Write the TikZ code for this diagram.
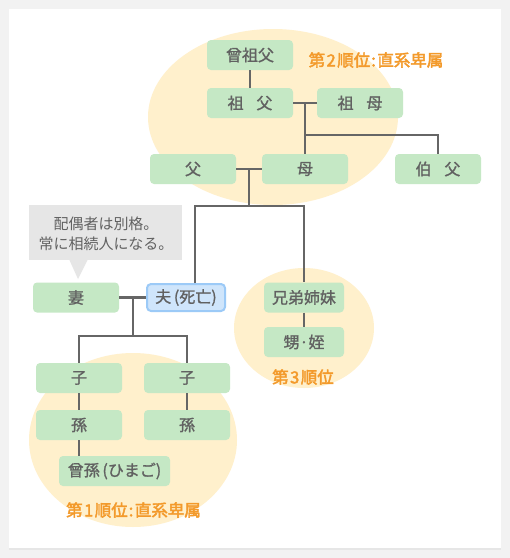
\documentclass[tikz,border=0pt]{standalone}
\usepackage{fontspec}
\newfontfamily\jp{Noto Sans CJK JP}
\newfontfamily\jpm[AutoFakeBold=1.2]{Noto Sans CJK JP}
\newfontfamily\jpb[AutoFakeBold=2.5]{Noto Sans CJK JP}
\definecolor{bgray}{HTML}{F2F2F2}
\definecolor{shad}{HTML}{E6E6E6}
\definecolor{gfill}{HTML}{C5E8C5}
\definecolor{tgray}{HTML}{616161}
\definecolor{lgray}{HTML}{666666}
\definecolor{bfill}{HTML}{CFE5FB}
\definecolor{bline}{HTML}{9CCAF7}
\definecolor{yfill}{HTML}{FFF0CC}
\definecolor{orng}{HTML}{F39A2B}
\definecolor{cfill}{HTML}{E6E6E6}
\tikzset{
  person/.style={fill=gfill, rounded corners=4pt, minimum width=86pt, minimum height=30pt,
    inner sep=0pt, font=\jpm\bfseries\fontsize{16pt}{18pt}\selectfont, text=tgray},
  narrow/.style={minimum width=80pt},
  deceased/.style={fill=bfill, draw=bline, line width=2pt, minimum width=78pt, minimum height=27pt},
  link/.style={draw=lgray, line width=2.6pt},
  rank/.style={font=\jpb\bfseries\fontsize{16.5pt}{19pt}\selectfont, text=orng, inner sep=0pt},
  zone/.style={fill=yfill}
}
\begin{document}
\begin{tikzpicture}[x=1pt,y=-1pt]
\useasboundingbox (0,0) rectangle (510,558);
\fill[bgray] (0,0) rectangle (510,558);
\fill[shad] (9,9) rectangle (501,549.5);
\fill[white] (9,9) rectangle (501,548);
% zones
\fill[zone] (273,117) ellipse [x radius=125, y radius=88];
\fill[zone] (133,440) ellipse [x radius=104, y radius=87];
\fill[zone] (304,328) ellipse [x radius=70, y radius=60];
% rank labels
\node[rank] (r2) at (376,60) {第\kern1.5pt2\kern1.5pt順位\kern1pt:\kern1.5pt直系卑属};
\node[rank] (r1) at (133.5,510) {第\kern1.5pt1\kern1.5pt順位\kern1pt:\kern1.5pt直系卑属};
\node[rank] (r3) at (303,377) {第\kern1.5pt3\kern1.5pt順位};
% callout
\fill[cfill] (29,205) rectangle (182,260);
\fill[cfill] (69,259) -- (88,259) -- (78,279) -- cycle;
\node[font=\jp\fontsize{15pt}{20pt}\selectfont, text=tgray, align=center, inner sep=0pt] (note) at (106,233.5) {配偶者は別格。\\常に相続人になる。};
% persons
\node[person] (sofu0) at (250,55) {曾祖父};
\node[person] (sofu) at (250,103) {祖\hspace{0.8em}父};
\node[person] (sobo) at (360,103) {祖\hspace{0.8em}母};
\node[person] (chichi) at (193,169) {父};
\node[person] (haha) at (305,169) {母};
\node[person] (oji) at (438,169) {伯\hspace{0.8em}父};
\node[person] (tsuma) at (76,297.5) {妻};
\node[person, deceased] (otto) at (186,297.5) {夫\,(死亡)};
\node[person, narrow] (kyodai) at (304,297.5) {兄弟姉妹};
\node[person, narrow] (oimei) at (304,342) {甥·姪};
\node[person] (ko1) at (79,378) {子};
\node[person] (ko2) at (187,378) {子};
\node[person] (mago1) at (79,425) {孫};
\node[person] (mago2) at (187,425) {孫};
\node[person, minimum width=111pt] (himago) at (114.5,471) {曾孫\,(ひまご)};
% junctions
\coordinate (j1) at (305,103);
\coordinate (j2) at (305,135);
\coordinate (j3) at (249,169);
\coordinate (j4) at (249,206);
\coordinate (j5) at (195,206);
\coordinate (j6) at (304,206);
\coordinate (j7) at (133,297.5);
\coordinate (j8) at (133,336);
\coordinate (j9) at (79,336);
\coordinate (j10) at (187,336);
% links
\draw[link] (sofu0) -- (sofu);
\draw[link] (sofu.east) -- (sobo.west);
\draw[link] (j1) -- (haha.north);
\draw[link] (j2) -| (oji.north);
\draw[link] (chichi.east) -- (haha.west);
\draw[link] (j3) -- (j4);
\draw[link] (j5 |- otto.north) -- (j5) -- (j6) -- (kyodai.north);
\draw[link] (kyodai) -- (oimei);
\draw[link] (tsuma.east) -- (otto.west);
\draw[link] (j7) -- (j8);
\draw[link] (ko1.north) -- (j9) -- (j10) -- (ko2.north);
\draw[link] (ko1) -- (mago1);
\draw[link] (ko2) -- (mago2);
\draw[link] (mago1.south) -- (mago1.south |- himago.north);
\end{tikzpicture}
\end{document}
